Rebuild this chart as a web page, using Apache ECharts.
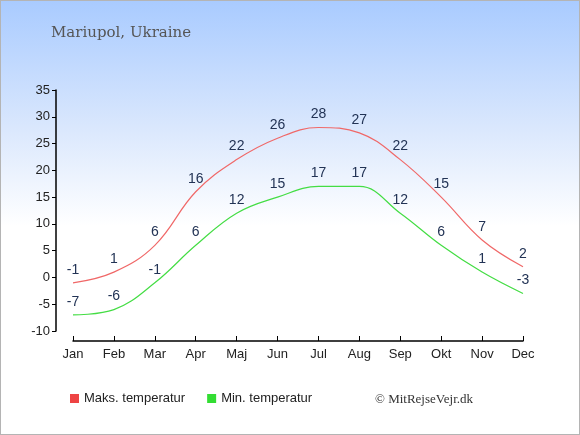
<!DOCTYPE html>
<html>
<head>
<meta charset="utf-8">
<script src="https://cdn.jsdelivr.net/npm/echarts@6/dist/echarts.min.js"></script>
<style>
  html, body { margin: 0; padding: 0; }
  #chart {
    width: 578px; height: 433px;
    border: 1px solid #b4b4b4;
    background: linear-gradient(to bottom, #a9cbff 0%, #dbe8fd 30%, #ffffff 52%, #ffffff 100%);
  }
</style>
</head>
<body>
<div id="chart"></div>
<script>
  const months = ['Jan', 'Feb', 'Mar', 'Apr', 'Maj', 'Jun', 'Jul', 'Aug', 'Sep', 'Okt', 'Nov', 'Dec'];
  const maxTemp = [-1, 1, 6, 16, 22, 26, 28, 27, 22, 15, 7, 2];
  const minTemp = [-7, -6, -1, 6, 12, 15, 17, 17, 12, 6, 1, -3];
  const yTicks = { min: -10, max: 35, interval: 5 };

  const chart = echarts.init(document.getElementById('chart'));

  const label = {
    show: true,
    position: 'top',
    distance: 6,
    color: '#223355',
    fontFamily: 'Liberation Sans, Arial, sans-serif',
    fontSize: 14,
  };

  chart.setOption({
    animation: false,
    textStyle: { fontFamily: 'Liberation Sans, Arial, sans-serif' },
    title: {
      text: 'Mariupol, Ukraine',
      left: 45,
      top: 20,
      textStyle: {
        fontFamily: 'DejaVu Serif, Liberation Serif, serif',
        fontWeight: 'normal',
        fontSize: 15,
        color: '#555555',
      },
    },
    grid: { left: 72, right: 56, top: 89, bottom: 103 },
    xAxis: {
      type: 'category',
      data: months,
      boundaryGap: false,
      offset: 10,
      axisLine: { onZero: false, lineStyle: { color: '#000', width: 1.5 } },
      axisTick: { alignWithLabel: true, length: 5, inside: true, lineStyle: { color: '#000' } },
      axisLabel: { color: '#222', fontSize: 13, margin: 7 },
      splitLine: { show: false },
    },
    yAxis: {
      type: 'value',
      min: yTicks.min,
      max: yTicks.max,
      interval: yTicks.interval,
      offset: 17,
      axisLine: { show: true, lineStyle: { color: '#000', width: 1.5 } },
      axisTick: { show: true, length: 4, lineStyle: { color: '#000' } },
      axisLabel: { color: '#222', fontSize: 13, margin: 6 },
      splitLine: { show: false },
    },
    legend: {
      bottom: 24,
      left: 64,
      itemWidth: 9,
      itemHeight: 9,
      itemGap: 22,
      icon: 'rect',
      textStyle: { color: '#222', fontSize: 13 },
      data: [
        { name: 'Maks. temperatur', itemStyle: { color: '#ee4444' } },
        { name: 'Min. temperatur', itemStyle: { color: '#33dd33' } },
      ],
    },
    graphic: [{
      type: 'text',
      right: 106,
      bottom: 28,
      style: {
        text: '© MitRejseVejr.dk',
        fill: '#333',
        font: '13px "Liberation Serif", serif',
      },
    }],
    series: [
      {
        name: 'Maks. temperatur',
        type: 'line',
        data: maxTemp,
        smooth: 0.4,
        symbol: 'circle',
        symbolSize: 0,
        lineStyle: { color: '#f06868', width: 1.2 },
        itemStyle: { color: '#ee4444' },
        label,
      },
      {
        name: 'Min. temperatur',
        type: 'line',
        data: minTemp,
        smooth: 0.4,
        symbol: 'circle',
        symbolSize: 0,
        lineStyle: { color: '#44dd44', width: 1.2 },
        itemStyle: { color: '#33dd33' },
        label,
      },
    ],
  });
</script>
</body>
</html>
